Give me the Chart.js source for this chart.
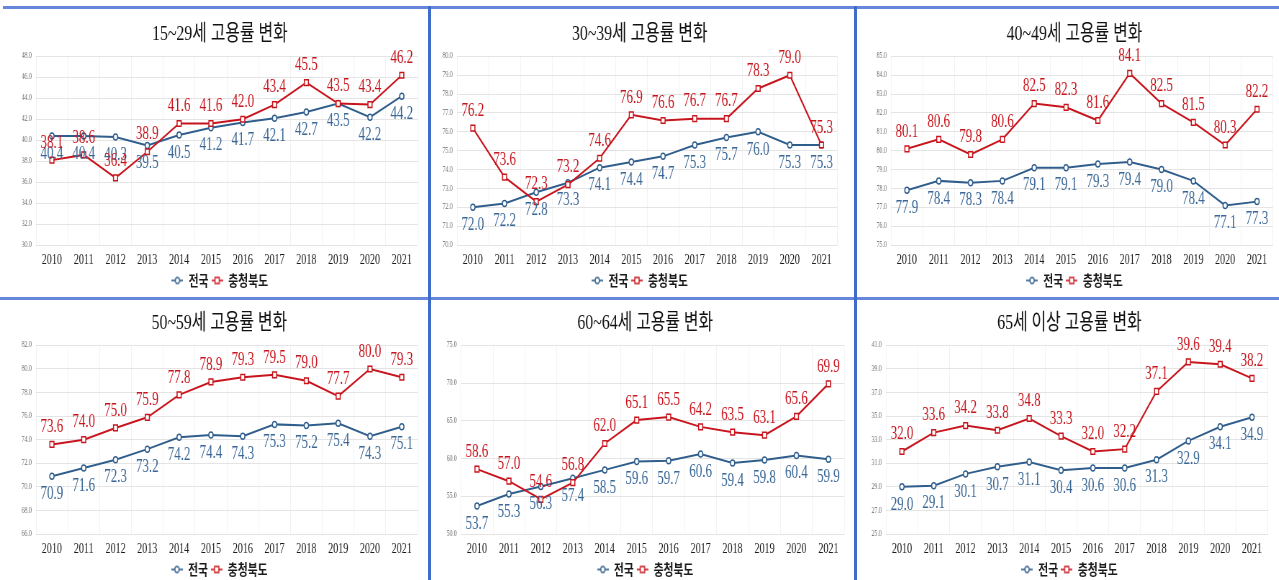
<!DOCTYPE html>
<html lang="ko">
<head>
<meta charset="utf-8">
<title>연령별 고용률 변화</title>
<script src="https://cdn.jsdelivr.net/npm/chart.js@4.4.1/dist/chart.umd.min.js"></script>
<style>
  html, body { margin: 0; padding: 0; background: #fff; }
  body { width: 1279px; height: 580px; position: relative; overflow: hidden; }
  .panel { position: absolute; height: 289px; overflow: hidden; }
  .panel canvas { position: absolute; left: 0; top: 0; transform-origin: 0 0; transform: scaleX(0.72); }
  .rule { position: absolute; }
</style>
</head>
<body>
<div class="panel" id="p0"></div>
<div class="panel" id="p1"></div>
<div class="panel" id="p2"></div>
<div class="panel" id="p3"></div>
<div class="panel" id="p4"></div>
<div class="panel" id="p5"></div>

<div class="rule" style="left:3px;top:6px;width:1276px;height:3px;background:#6686db"></div>
<div class="rule" style="left:0;top:297px;width:1279px;height:3px;background:#6686db"></div>
<div class="rule" style="left:428px;top:6px;width:3px;height:574px;background:#3f6cc8"></div>
<div class="rule" style="left:854px;top:6px;width:3px;height:574px;background:#3f6cc8"></div>

<script>
// data
const years = ['2010', '2011', '2012', '2013', '2014', '2015', '2016', '2017', '2018', '2019', '2020', '2021'];
const seriesNames = ['전국', '충청북도'];

const national15 = [40.4, 40.4, 40.3, 39.5, 40.5, 41.2, 41.7, 42.1, 42.7, 43.5, 42.2, 44.2];
const chungbuk15 = [38.1, 38.6, 36.4, 38.9, 41.6, 41.6, 42.0, 43.4, 45.5, 43.5, 43.4, 46.2];

const national30 = [72.0, 72.2, 72.8, 73.3, 74.1, 74.4, 74.7, 75.3, 75.7, 76.0, 75.3, 75.3];
const chungbuk30 = [76.2, 73.6, 72.3, 73.2, 74.6, 76.9, 76.6, 76.7, 76.7, 78.3, 79.0, 75.3];

const national40 = [77.9, 78.4, 78.3, 78.4, 79.1, 79.1, 79.3, 79.4, 79.0, 78.4, 77.1, 77.3];
const chungbuk40 = [80.1, 80.6, 79.8, 80.6, 82.5, 82.3, 81.6, 84.1, 82.5, 81.5, 80.3, 82.2];

const national50 = [70.9, 71.6, 72.3, 73.2, 74.2, 74.4, 74.3, 75.3, 75.2, 75.4, 74.3, 75.1];
const chungbuk50 = [73.6, 74.0, 75.0, 75.9, 77.8, 78.9, 79.3, 79.5, 79.0, 77.7, 80.0, 79.3];

const national60 = [53.7, 55.3, 56.3, 57.4, 58.5, 59.6, 59.7, 60.6, 59.4, 59.8, 60.4, 59.9];
const chungbuk60 = [58.6, 57.0, 54.6, 56.8, 62.0, 65.1, 65.5, 64.2, 63.5, 63.1, 65.6, 69.9];

const national65 = [29.0, 29.1, 30.1, 30.7, 31.1, 30.4, 30.6, 30.6, 31.3, 32.9, 34.1, 34.9];
const chungbuk65 = [32.0, 33.6, 34.2, 33.8, 34.8, 33.3, 32.0, 32.2, 37.1, 39.6, 39.4, 38.2];

const chartTitles = ['15~29세 고용률 변화', '30~39세 고용률 변화', '40~49세 고용률 변화',
                     '50~59세 고용률 변화', '60~64세 고용률 변화', '65세 이상 고용률 변화'];
const axisMin  = [30, 70, 75, 66, 50, 25];
const axisMax  = [48, 80, 85, 82, 75, 41];
const axisStep = [2, 1, 1, 2, 5, 2];

// layout / style
const SQUEEZE = 0.72;   // the reference is squashed horizontally
const BLUE = '#2f5d8c';
const BLUE_TEXT = '#3a6796';
const RED = '#c8141c';
const SERIF = '"Liberation Serif", "Noto Sans CJK KR", serif';
const SANS = '"Noto Sans CJK KR", "Noto Sans", sans-serif';

// padLeft shifts the centred title/legend; plotLeft is where the plot area starts
const panelBoxes = [
    { left: 0,   top: 11,  width: 428, padLeft: 22, plotLeft: 36, plotRight: 10 },
    { left: 431, top: 11,  width: 423, padLeft: 11, plotLeft: 26, plotRight: 17 },
    { left: 857, top: 11,  width: 422, padLeft: 19, plotLeft: 34, plotRight: 6 },
    { left: 0,   top: 300, width: 428, padLeft: 21, plotLeft: 36, plotRight: 10 },
    { left: 431, top: 300, width: 423, padLeft: 15, plotLeft: 30, plotRight: 10 },
    { left: 857, top: 300, width: 422, padLeft: 14, plotLeft: 29, plotRight: 11 }
];
const nationalSets = [national15, national30, national40, national50, national60, national65];
const chungbukSets = [chungbuk15, chungbuk30, chungbuk40, chungbuk50, chungbuk60, chungbuk65];

// value labels: red above the point, blue below
const valueLabels = {
    id: 'valueLabels',
    afterDatasetsDraw(chart) {
        const ctx = chart.ctx;
        ctx.save();
        ctx.font = '18px ' + SERIF;
        ctx.textAlign = 'center';
        ctx.textBaseline = 'middle';
        chart.data.datasets.forEach((ds, i) => {
            const meta = chart.getDatasetMeta(i);
            ctx.fillStyle = ds.labelColor;
            meta.data.forEach((pt, j) => {
                ctx.fillText(ds.data[j].toFixed(1), pt.x, pt.y + ds.labelOffset);
            });
        });
        ctx.restore();
    }
};

// small line+marker icon for the legend (Excel style)
function legendIcon(color, shape) {
    const c = document.createElement('canvas');
    c.width = 16;
    c.height = 10;
    const g = c.getContext('2d');
    g.strokeStyle = color;
    g.lineWidth = 1.6;
    g.beginPath();
    g.moveTo(0, 5);
    g.lineTo(16, 5);
    g.stroke();
    g.fillStyle = '#fff';
    g.lineWidth = 1.4;
    g.beginPath();
    if (shape === 'rect') {
        g.rect(5, 2, 6, 6);
    } else {
        g.arc(8, 5, 3, 0, Math.PI * 2);
    }
    g.fill();
    g.stroke();
    return c;
}

function makeChart(idx) {
    const box = panelBoxes[idx];
    const holder = document.getElementById('p' + idx);
    holder.style.left = box.left + 'px';
    holder.style.top = box.top + 'px';
    holder.style.width = box.width + 'px';

    const canvas = document.createElement('canvas');
    canvas.width = Math.round(box.width / SQUEEZE);
    canvas.height = 289;
    holder.appendChild(canvas);

    return new Chart(canvas.getContext('2d'), {
        type: 'line',
        data: {
            labels: years,
            datasets: [
                {
                    label: seriesNames[0],
                    data: nationalSets[idx],
                    borderColor: BLUE,
                    backgroundColor: '#fff',
                    borderWidth: 2,
                    pointStyle: 'circle',
                    pointRadius: 3,
                    pointBorderWidth: 1.5,
                    pointBackgroundColor: '#fff',
                    tension: 0,
                    order: 1,
                    labelColor: BLUE_TEXT,
                    labelOffset: 18
                },
                {
                    label: seriesNames[1],
                    data: chungbukSets[idx],
                    borderColor: RED,
                    backgroundColor: '#fff',
                    borderWidth: 2,
                    pointStyle: 'rect',
                    pointRadius: 4,
                    pointBorderWidth: 1.5,
                    pointBackgroundColor: '#fff',
                    tension: 0,
                    order: 0,
                    labelColor: RED,
                    labelOffset: -17
                }
            ]
        },
        options: {
            responsive: false,
            animation: false,
            devicePixelRatio: 1,
            events: [],
            layout: {
                padding: {
                    top: 0,
                    right: box.plotRight / SQUEEZE,
                    bottom: 2,
                    left: box.padLeft / SQUEEZE
                }
            },
            plugins: {
                title: {
                    display: true,
                    text: chartTitles[idx],
                    color: '#111',
                    font: { family: SERIF, size: 22, weight: 'normal', lineHeight: 1.2 },
                    padding: { top: 10, bottom: 9 }
                },
                legend: {
                    position: 'bottom',
                    labels: {
                        usePointStyle: true,
                        pointStyleWidth: 16,
                        padding: 4,
                        color: '#1a1a1a',
                        font: { family: SANS, size: 15, weight: '600' },
                        generateLabels(chart) {
                            return chart.data.datasets.map((ds, i) => ({
                                text: ds.label,
                                fontColor: '#1a1a1a',
                                pointStyle: legendIcon(ds.borderColor, ds.pointStyle),
                                datasetIndex: i,
                                hidden: false,
                                lineWidth: 0,
                                strokeStyle: 'transparent',
                                fillStyle: 'transparent'
                            }));
                        }
                    }
                },
                tooltip: { enabled: false }
            },
            scales: {
                x: {
                    offset: true,
                    grid: { color: '#f2f2f2', drawTicks: false, offset: true },
                    border: { display: false },
                    ticks: {
                        color: '#1a1a1a',
                        font: { family: SERIF, size: 14 },
                        padding: 7,
                        maxRotation: 0,
                        autoSkip: false
                    },
                    afterFit(scale) { scale.height = 24; }
                },
                y: {
                    min: axisMin[idx],
                    max: axisMax[idx],
                    grid: { color: '#e4e4e4', drawTicks: false },
                    border: { display: false },
                    ticks: {
                        stepSize: axisStep[idx],
                        color: '#666',
                        font: { family: SERIF, size: 8 },
                        padding: 6,
                        callback: (v) => Number(v).toFixed(1)
                    },
                    afterFit(scale) { scale.width = (box.plotLeft - box.padLeft) / SQUEEZE; }
                }
            }
        },
        plugins: [valueLabels]
    });
}

for (let i = 0; i < 6; i++) {
    makeChart(i);
}
</script>
</body>
</html>
